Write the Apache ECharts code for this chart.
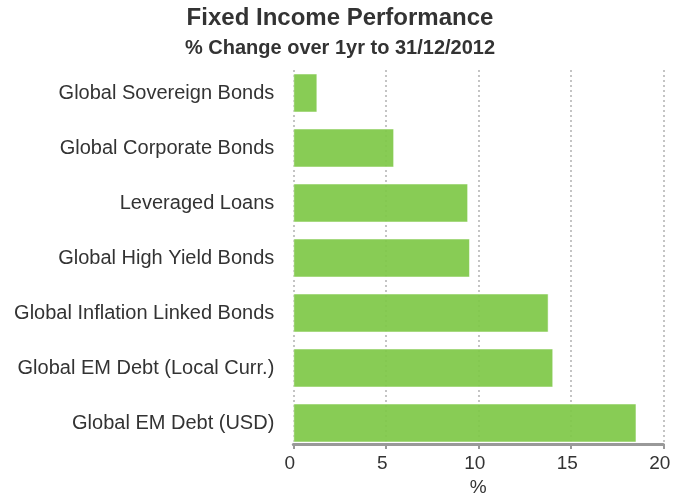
<!DOCTYPE html>
<html>
<head>
<meta charset="utf-8">
<script src="https://cdn.jsdelivr.net/npm/echarts@6/dist/echarts.min.js"></script>
<style>
  html, body { margin: 0; padding: 0; background: #fff; }
  #chart { width: 687px; height: 495px; }
</style>
</head>
<body>
<div id="chart"></div>
<script>
// Fixed income asset classes, top to bottom
const categories = [
  'Global Sovereign Bonds',
  'Global Corporate Bonds',
  'Leveraged Loans',
  'Global High Yield Bonds',
  'Global Inflation Linked Bonds',
  'Global EM Debt (Local Curr.)',
  'Global EM Debt (USD)'
];
// One-year % change to 31/12/2012
const changes = [1.3, 5.45, 9.45, 9.55, 13.8, 14.05, 18.55];
const titleText = 'Fixed Income Performance';
const subtitleText = '% Change over 1yr to 31/12/2012';
const axisName = '%';
const xMin = 0, xMax = 20, xStep = 5;

const FONT = '"Liberation Sans", Arial, Helvetica, sans-serif';
const TEXT = '#333333';

const chart = echarts.init(document.getElementById('chart'), null, { renderer: 'canvas' });

chart.setOption({
  backgroundColor: '#ffffff',
  animation: false,
  title: [
    {
      text: titleText,
      left: 340, top: 6, textAlign: 'center', padding: 0,
      textStyle: { fontFamily: FONT, fontSize: 24, fontWeight: 'bold', color: TEXT }
    },
    {
      text: subtitleText,
      left: 340, top: 38, textAlign: 'center', padding: 0,
      textStyle: { fontFamily: FONT, fontSize: 20, fontWeight: 'bold', color: TEXT }
    }
  ],
  grid: [
    // plotting area for the bars
    { left: 293.3, right: 23.7, top: 65.5, bottom: 44.5, containLabel: false, outerBoundsMode: 'none' },
    // value scale with its dotted gridlines
    { left: 293.3, right: 23.7, top: 70, bottom: 51, containLabel: false, outerBoundsMode: 'none' }
  ],
  xAxis: [
    {
      gridIndex: 0, type: 'value', min: xMin, max: xMax, interval: xStep,
      show: false
    },
    {
      gridIndex: 1, type: 'value', min: xMin, max: xMax, interval: xStep,
      name: axisName, nameLocation: 'middle', nameGap: 33,
      nameTextStyle: { fontFamily: FONT, fontSize: 19, color: TEXT },
      axisLine: { show: true, lineStyle: { color: '#999999', width: 3 } },
      axisTick: { show: true, length: 5, lineStyle: { color: '#999999', width: 2 } },
      axisLabel: {
        fontFamily: FONT, fontSize: 19, color: TEXT, margin: 10,
        padding: [0, 7, 0, 0]
      },
      splitLine: {
        show: true,
        lineStyle: { color: '#c4c4c4', width: 2, type: [2, 3] }
      }
    }
  ],
  yAxis: [
    {
      gridIndex: 0, type: 'category', data: categories, inverse: true,
      axisLine: { show: false }, axisTick: { show: false },
      splitLine: { show: false },
      axisLabel: { fontFamily: FONT, fontSize: 20, color: TEXT, margin: 19 }
    },
    {
      gridIndex: 1, type: 'value', show: false,
      splitLine: { show: false }
    }
  ],
  series: [
    {
      type: 'bar',
      xAxisIndex: 0, yAxisIndex: 0,
      data: changes,
      barWidth: 39,
      itemStyle: {
        color: '#7ec846',
        opacity: 0.92,
        borderColor: 'rgba(255,255,255,0.55)',
        borderWidth: 1
      },
      z: 3
    }
  ]
});
</script>
</body>
</html>
